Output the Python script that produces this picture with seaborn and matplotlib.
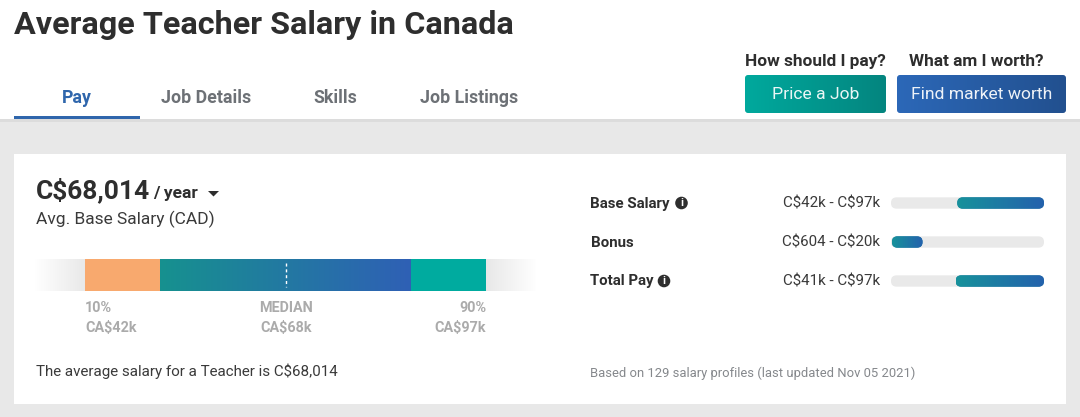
import numpy as np
import matplotlib
matplotlib.use("Agg")
import matplotlib.pyplot as plt
from matplotlib.colors import LinearSegmentedColormap
from matplotlib.patches import Circle, FancyBboxPatch, Polygon, Rectangle
from matplotlib.transforms import IdentityTransform
import seaborn as sns

# main bar: percentile breakpoints
segment_names = ["low fade", "p10-p25", "p25-p75", "p75-p90", "high fade"]
segment_start = [0, 10, 25, 75, 90]
segment_end = [10, 25, 75, 90, 100]
segment_colors = ["#e8e8e8", "#f8a96e", "#2076a6", "#00ab9f", "#e8e8e8"]
median_pct = 50
scale_labels = ["10%", "MEDIAN", "90%"]
scale_values = ["CA\\$42k", "CA\\$68k", "CA\\$97k"]

# right hand ranges, in thousands
pay_names = ["Base Salary", "Bonus", "Total Pay"]
pay_low = [42, 0.604, 41]
pay_high = [97, 20, 97]
pay_labels = ["C\\$42k - C\\$97k", "C\\$604 - C\\$20k", "C\\$41k - C\\$97k"]
pay_max = 97

tabs = ["Pay", "Job Details", "Skills", "Job Listings"]

W, H = 1080, 417
DARK = "#2e2e2e"
BLUE = "#2f66ac"

sns.set_theme(style="white")
plt.rcParams["font.family"] = ["Roboto", "DejaVu Sans"]

fig = plt.figure(figsize=(W / 100, H / 100), dpi=100, facecolor="white")
bg = fig.add_axes([0, 0, 1, 1], zorder=0)
bg.set_xlim(0, W)
bg.set_ylim(H, 0)
bg.axis("off")


def px_axes(x0, y0, x1, y1):
    ax = fig.add_axes([x0 / W, 1 - y1 / H, (x1 - x0) / W, (y1 - y0) / H], zorder=1)
    ax.patch.set_alpha(0)
    return ax


def grad(ax, extent, c0, c1, clip=None, zorder=5):
    cmap = LinearSegmentedColormap.from_list("g", [c0, c1])
    xlim, ylim = ax.get_xlim(), ax.get_ylim()
    im = ax.imshow(np.linspace(0, 1, 256).reshape(1, -1), extent=extent, cmap=cmap,
                   aspect="auto", zorder=zorder, interpolation="bilinear")
    ax.set_xlim(xlim)
    ax.set_ylim(ylim)
    if clip is not None:
        im.set_clip_path(clip)
    return im


def rounded(bar, r):
    bb = bar.get_window_extent()
    return FancyBboxPatch((bb.x0 + r, bb.y0 + r), bb.width - 2 * r, bb.height - 2 * r,
                          boxstyle=f"round,pad={r},rounding_size={r}",
                          transform=IdentityTransform())


# page background
bg.add_patch(Rectangle((0, 120), W, H - 120, color="#e8e8e8", lw=0))
bg.add_patch(Rectangle((0, 119), W, 2.5, color="#dcdcdc", lw=0))
bg.add_patch(Rectangle((14, 154), 1052, 250, color="white", lw=0))

bg.text(14, 25, "Average Teacher Salary in Canada", fontsize=23.3, fontweight="bold",
        color=DARK, va="center", ha="left")

# tabs
tab_x = [76.5, 206, 335, 469]
for i, (t, x) in enumerate(zip(tabs, tab_x)):
    bg.text(x, 97.5, t, fontsize=12.8, fontweight="bold", va="center", ha="center",
            color=BLUE if i == 0 else "#6d7176")
bg.add_patch(Rectangle((14, 116), 126, 3, color=BLUE, lw=0))

# buttons
buttons = [(745, 886, "#00a99d", "#04857f", "Price a Job", "How should I pay?", 815.5),
           (897, 1066, "#2c68b8", "#22508f", "Find market worth", "What am I worth?", 976)]
for x0, x1, c0, c1, label, q, qx in buttons:
    box = FancyBboxPatch((x0 + 3, 78), x1 - x0 - 6, 32, boxstyle="round,pad=3,rounding_size=3",
                         fc="none", ec="none", transform=bg.transData)
    bg.add_patch(box)
    grad(bg, (x0, x1, 113, 75), c0, c1, clip=box)
    bg.text((x0 + x1) / 2, 94, label, fontsize=12.6, color="white", alpha=0.92,
            va="center", ha="center", zorder=6)
    bg.text(qx, 61.5, q, fontsize=12.4, fontweight="bold", color=DARK, va="center", ha="center")

# headline
bg.text(36, 190.5, "C\\$68,014", fontsize=19, fontweight="bold", color=DARK, va="center")
bg.text(153, 193, "/ year", fontsize=12.5, fontweight="bold", color=DARK, va="center")
bg.add_patch(Polygon([(208, 191), (219, 191), (213.5, 196.5)], color=DARK, lw=0))
bg.text(36, 219, "Avg. Base Salary (CAD)", fontsize=12.5, color="#3a3a3a", va="center")

# percentile bar
ax_bar = px_axes(35, 259, 536, 291)
for name, s, e, c in zip(segment_names, segment_start, segment_end, segment_colors):
    sns.barplot(x=[e - s], y=["pct"], left=s, width=1, color=c, saturation=1,
                errorbar=None, linewidth=0, ax=ax_bar)
ax_bar.set_xlim(0, 100)
ax_bar.set_ylim(0.5, -0.5)
ax_bar.axis("off")
grad(ax_bar, (25, 75, 0.5, -0.5), "#16918f", "#2f60b5")
grad(ax_bar, (0, 10, 0.5, -0.5), "white", "#ffffff00")
grad(ax_bar, (90, 100, 0.5, -0.5), "#ffffff00", "white")
ax_bar.vlines(median_pct, -0.36, 0.36, color="white", lw=1, ls=(0, (2.2, 2)), zorder=7)

label_x = [85, 286, 486]
label_ha = ["left", "center", "right"]
for lab, val, x, ha in zip(scale_labels, scale_values, label_x, label_ha):
    bg.text(x, 307.5, lab, fontsize=10.4, fontweight="bold", color="#ababab", va="center", ha=ha)
    bg.text(x, 328, val, fontsize=10.4, fontweight="bold", color="#ababab", va="center", ha=ha)

bg.text(36, 371, "The average salary for a Teacher is C\\$68,014", fontsize=10.87, color="#3a3a3a",
        va="center")

# range bars, one row every 39 px
ax_pay = px_axes(891, 183.5, 1044, 300.5)
sns.barplot(x=[pay_max] * 3, y=pay_names, width=0.29, color="#e9e9e9", saturation=1,
            errorbar=None, linewidth=0, ax=ax_pay)
n_track = len(ax_pay.patches)
sns.barplot(x=np.array(pay_high) - np.array(pay_low), y=pay_names, left=pay_low, width=0.29,
            color="#1f7da4", saturation=1, errorbar=None, linewidth=0, ax=ax_pay)
ax_pay.set_xlim(0, pay_max)
ax_pay.set_ylim(2.5, -0.5)
ax_pay.axis("off")
fig.canvas.draw()
for bar in ax_pay.patches[:n_track]:
    bar.set_clip_path(rounded(bar, 5.5))
for bar in ax_pay.patches[n_track:]:
    clip = rounded(bar, 5.5)
    bar.set_clip_path(clip)
    x0, w, y0, h = bar.get_x(), bar.get_width(), bar.get_y(), bar.get_height()
    grad(ax_pay, (x0, x0 + w, y0 + h, y0), "#17929b", "#2461ad", clip=clip)

row_y = [203, 242, 281]
info_x = [681.5, None, 664]
for name, lab, y, ix in zip(pay_names, pay_labels, row_y, info_x):
    bg.text(590.5, y + 0.5, name, fontsize=10.8, fontweight="bold", color=DARK, va="center")
    bg.text(880, y + 0.5, lab, fontsize=10.9, color="#3a3a3a", va="center", ha="right")
    if ix is not None:
        bg.add_patch(Circle((ix, y), 6.3, color=DARK, lw=0))
        bg.text(ix, y, "i", fontsize=8, fontweight="bold", color="white", va="center", ha="center")

bg.text(590.5, 373, "Based on 129 salary profiles (last updated Nov 05 2021)", fontsize=9.36,
        color="#85888c", va="center")

fig.savefig("out.png", dpi=100)
